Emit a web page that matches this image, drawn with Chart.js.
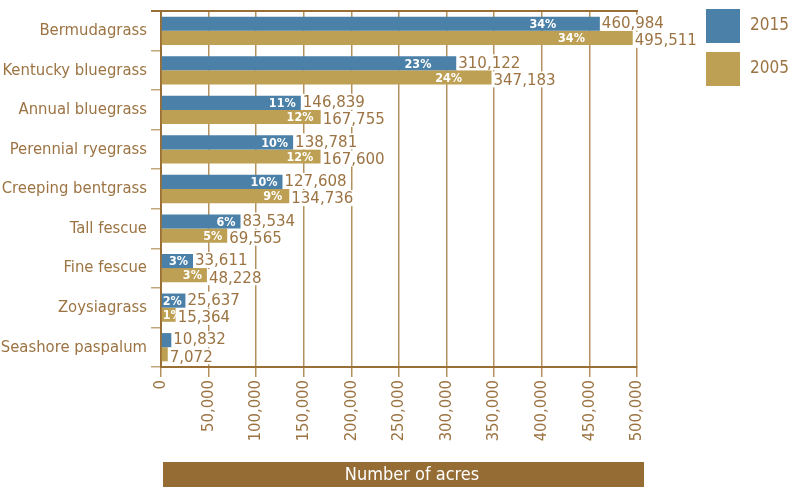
<!DOCTYPE html>
<html>
<head>
<meta charset="utf-8">
<script src="https://cdn.jsdelivr.net/npm/chart.js@4/dist/chart.umd.min.js"></script>
<style>
  html, body { margin: 0; padding: 0; background: #fff; }
  #wrap { width: 801px; height: 487px; position: relative; }
</style>
</head>
<body>
<div id="wrap"><canvas id="c" width="801" height="487"></canvas></div>
<script>
const categories = ["Bermudagrass", "Kentucky bluegrass", "Annual bluegrass", "Perennial ryegrass", "Creeping bentgrass", "Tall fescue", "Fine fescue", "Zoysiagrass", "Seashore paspalum"];
const seriesNames = ["2015", "2005"];
const acres2015 = [460984, 310122, 146839, 138781, 127608, 83534, 33611, 25637, 10832];
const acres2005 = [495511, 347183, 167755, 167600, 134736, 69565, 48228, 15364, 7072];
const pct2015 = [34, 23, 11, 10, 10, 6, 3, 2, null];
const pct2005 = [34, 24, 12, 12, 9, 5, 3, 1, null];
const xTicks = [0, 50000, 100000, 150000, 200000, 250000, 300000, 350000, 400000, 450000, 500000];
const axisTitle = "Number of acres";

const FONT = "'DejaVu Sans Condensed', 'DejaVu Sans', sans-serif";
const TEXT = "#9c7443";
const DARK = "#9a6f36";
const GRID = "#b4925f";
const BLUE = "#4b81a8";
const TAN = "#bea055";
const BOX = "#956c34";

const pctLists = [pct2015, pct2005];

const labelPlugin = {
  id: 'labels',
  afterDatasetsDraw(chart) {
    const ctx = chart.ctx;
    ctx.save();
    chart.data.datasets.forEach((ds, di) => {
      const meta = chart.getDatasetMeta(di);
      meta.data.forEach((bar, i) => {
        const v = ds.data[i];
        const props = bar.getProps(['x', 'y', 'base', 'height'], true);
        const yOff = di === 0 ? -1 : 2;
        ctx.font = "16.7px " + FONT;
        const txt = v.toLocaleString('en-US');
        const w = ctx.measureText(txt).width;
        ctx.fillStyle = "#ffffff";
        ctx.fillRect(props.x + 1, props.y + yOff - 8, w + 3, 16);
        ctx.fillStyle = TEXT;
        ctx.textBaseline = 'middle';
        ctx.textAlign = 'left';
        ctx.fillText(txt, props.x + 2, props.y + yOff + 1);
        const p = pctLists[di][i];
        if (p !== null && p !== undefined) {
          ctx.font = "bold 12.5px " + FONT;
          const pt = p + "%";
          const pw = ctx.measureText(pt).width;
          const len = props.x - props.base;
          let cx = props.base + 0.87 * len;
          let right = cx + pw / 2;
          if (right > props.x - 5) right = props.x - 5;
          let left = right - pw;
          if (left < props.base + 1) left = props.base + 1;
          ctx.fillStyle = "#ffffff";
          ctx.textAlign = 'left';
          ctx.textBaseline = 'middle';
          ctx.fillText(pt, left, props.y + 1);
        }
      });
    });
    ctx.restore();
  },
  afterDraw(chart) {
    const ctx = chart.ctx;
    const a = chart.chartArea;
    ctx.save();
    ctx.strokeStyle = DARK;
    ctx.lineWidth = 2;
    ctx.beginPath();
    ctx.moveTo(a.left - 10, a.top);
    ctx.lineTo(a.right + 1, a.top);
    ctx.stroke();
    const colors = [BLUE, TAN];
    seriesNames.forEach((n, k) => {
      const y0 = 9 + k * 43;
      ctx.fillStyle = colors[k];
      ctx.fillRect(706, y0, 34, 34);
      ctx.fillStyle = TEXT;
      ctx.font = "17px " + FONT;
      ctx.textAlign = 'left';
      ctx.textBaseline = 'middle';
      ctx.fillText(n, 750, y0 + 17);
    });
    ctx.fillStyle = BOX;
    ctx.fillRect(163, 462, 481, 25);
    ctx.fillStyle = "#ffffff";
    ctx.font = "18px " + FONT;
    ctx.textAlign = 'center';
    ctx.textBaseline = 'middle';
    ctx.fillText(axisTitle, 412, 475);
    ctx.restore();
  }
};

new Chart(document.getElementById('c'), {
  type: 'bar',
  data: {
    labels: categories,
    datasets: [
      { label: seriesNames[0], data: acres2015, backgroundColor: BLUE },
      { label: seriesNames[1], data: acres2005, backgroundColor: TAN }
    ]
  },
  options: {
    indexAxis: 'y',
    responsive: false,
    animation: false,
    devicePixelRatio: 1,
    layout: { padding: { left: 0, right: 164, top: 11, bottom: 0 } },
    datasets: { bar: { categoryPercentage: 0.715, barPercentage: 1.0 } },
    plugins: { legend: { display: false }, tooltip: { enabled: false } },
    scales: {
      x: {
        min: 0, max: 500000,
        afterBuildTicks: (s) => { s.ticks = xTicks.map(v => ({ value: v })); },
        afterFit: (s) => { s.height = 120; s.paddingLeft = 0; s.paddingRight = 0; },
        ticks: {
          color: TEXT, font: { family: FONT, size: 16.5 },
          minRotation: 90, maxRotation: 90, padding: 3,
          callback: (v) => Number(v).toLocaleString('en-US')
        },
        grid: { color: GRID, lineWidth: 1.5, tickLength: 10, tickColor: GRID },
        border: { color: DARK, width: 2 }
      },
      y: {
        afterFit: (s) => { s.width = 161; s.paddingTop = 0; s.paddingBottom = 0; },
        ticks: { color: TEXT, font: { family: FONT, size: 16.5 }, padding: 4 },
        grid: { drawOnChartArea: false, tickLength: 10, color: "#c2a77d", lineWidth: 1.5 },
        border: { color: DARK, width: 2 }
      }
    }
  },
  plugins: [labelPlugin]
});
</script>
</body>
</html>
